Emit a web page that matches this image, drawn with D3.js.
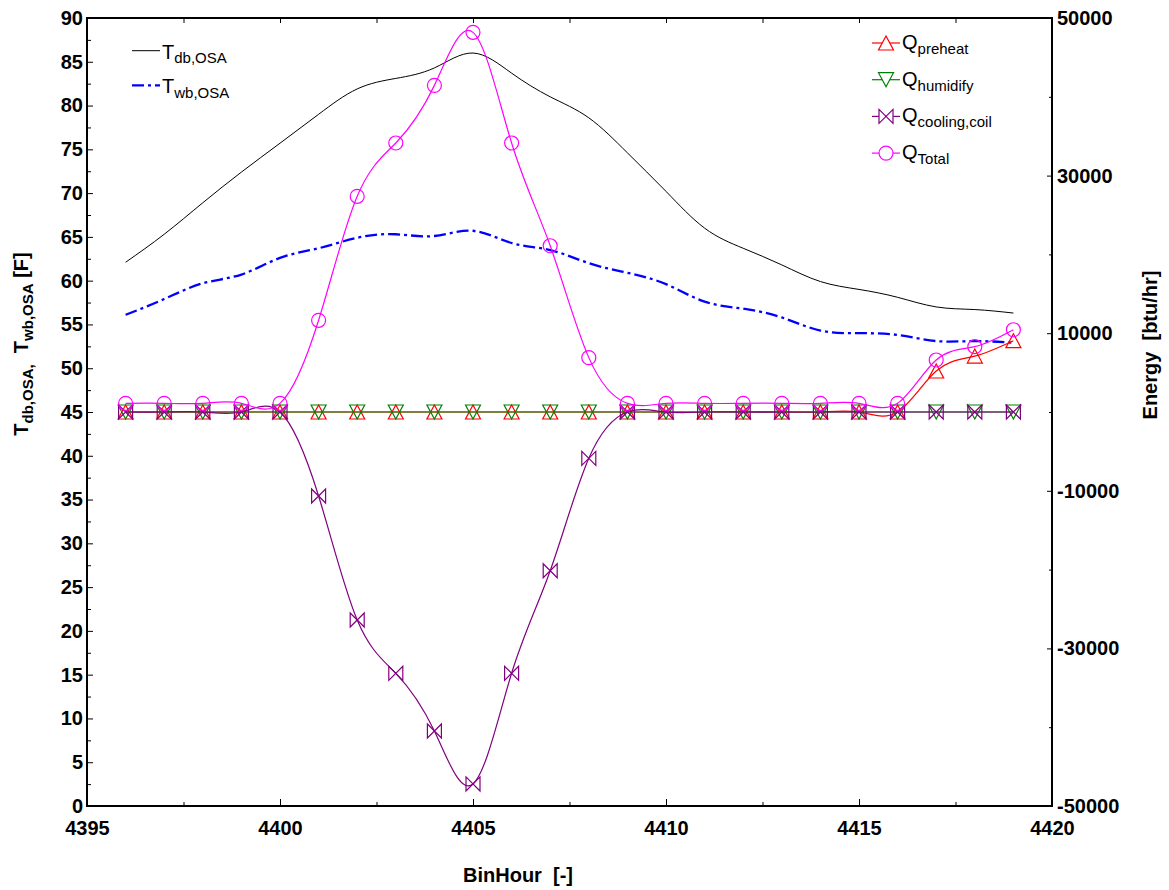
<!DOCTYPE html>
<html>
<head>
<meta charset="utf-8">
<script src="https://cdn.jsdelivr.net/npm/d3@7"></script>
<style>
  body { margin: 0; background: #fff; }
  text { font-family: "Liberation Sans", Arial, sans-serif; }
</style>
</head>
<body>
<script>
// values
const hours = [4396, 4397, 4398, 4399, 4400, 4401, 4402, 4403, 4404, 4405, 4406, 4407,
               4408, 4409, 4410, 4411, 4412, 4413, 4414, 4415, 4416, 4417, 4418, 4419];

const tDb = [62.1, 65.3, 68.9, 72.4, 75.7, 79.0, 81.9, 83.1, 84.3, 86.0, 83.7, 81.0,
             78.6, 74.6, 70.2, 66.0, 63.7, 61.8, 59.9, 59.0, 58.1, 57.0, 56.7, 56.3];

const tWb = [56.1, 57.9, 59.7, 60.7, 62.6, 63.7, 64.9, 65.3, 65.1, 65.7, 64.3, 63.5,
             62.0, 60.9, 59.6, 57.6, 56.8, 55.8, 54.3, 54.0, 53.8, 53.1, 53.1, 52.9];

const qPreheat = [0, 0, 0, 0, 0, 0, 0, 0, 0, 0, 0, 0,
                  0, 0, 0, 0, 0, 0, 0, 0, 0, 5200, 7100, 9050];

const qHumidify = [0, 0, 0, 0, 0, 0, 0, 0, 0, 0, 0, 0,
                   0, 0, 0, 0, 0, 0, 0, 0, 0, 0, 0, 0];

const qCooling = [0, 0, 0, 0, 0, -10660, -26400, -33160, -40480, -47200, -33160, -20140,
                  -5880, 0, 0, 0, 0, 0, 0, 0, 0, 0, 0, 0];

const qTotal = [1100, 1100, 1100, 1100, 1100, 11640, 27370, 34140, 41450, 48180, 34140, 21100,
                6900, 1100, 1100, 1100, 1100, 1100, 1100, 1100, 1100, 6600, 8290, 10440];

const xTicks = [4395, 4400, 4405, 4410, 4415, 4420];
const xMinor = [4397.5, 4402.5, 4407.5, 4412.5, 4417.5];
const tTicks = [0, 5, 10, 15, 20, 25, 30, 35, 40, 45, 50, 55, 60, 65, 70, 75, 80, 85, 90];
const tMinor = [2.5, 7.5, 12.5, 17.5, 22.5, 27.5, 32.5, 37.5, 42.5, 47.5, 52.5, 57.5, 62.5, 67.5, 72.5, 77.5, 82.5, 87.5];
const qTicks = [50000, 30000, 10000, -10000, -30000, -50000];
const qMinor = [40000, 20000, 0, -20000, -40000];

const width = 1169;
const height = 890;
const plot = { left: 87, right: 1052, top: 18, bottom: 806 };

const x = d3.scaleLinear().domain([4395, 4420]).range([plot.left, plot.right]);
const yT = d3.scaleLinear().domain([0, 90]).range([plot.bottom, plot.top]);
const yQ = d3.scaleLinear().domain([-50000, 50000]).range([plot.bottom, plot.top]);

const svg = d3.select('body').append('svg')
    .attr('width', width)
    .attr('height', height);

// marker shapes
const shapes = {
    triUp: 'M0,-7L7.5,7L-7.5,7Z',
    triDown: 'M-7.5,-7L7.5,-7L0,7Z',
    bowtie: 'M-7,-7L7,7L7,-7L-7,7Z',
    circle: 'M7,0A7,7 0 1,1 -7,0A7,7 0 1,1 7,0Z'
};

const tempSeries = [
    { label: 'db,OSA', values: tDb, color: '#000', width: 1, dash: null },
    { label: 'wb,OSA', values: tWb, color: '#0000ff', width: 2.3, dash: '12,4,3,4' }
];

const qSeries = [
    { label: 'preheat', values: qPreheat, color: '#ff0000', shape: 'triUp' },
    { label: 'humidify', values: qHumidify, color: '#008000', shape: 'triDown' },
    { label: 'cooling,coil', values: qCooling, color: '#800080', shape: 'bowtie' },
    { label: 'Total', values: qTotal, color: '#ff00ff', shape: 'circle' }
];

// axes
function styleAxis(g) {
    g.select('.domain').remove();
    g.selectAll('line').attr('stroke', '#000').attr('stroke-width', 1);
    g.selectAll('text')
        .style('font-size', '20px')
        .style('font-weight', 'bold')
        .attr('fill', '#000');
}

svg.append('g')
    .attr('transform', `translate(0, ${plot.bottom})`)
    .call(d3.axisBottom(x).tickValues(xTicks).tickSize(-7).tickPadding(15).tickFormat(d3.format('d')))
    .call(styleAxis);
svg.append('g')
    .attr('transform', `translate(0, ${plot.bottom})`)
    .call(d3.axisBottom(x).tickValues(xMinor).tickSize(-4).tickFormat(''))
    .call(styleAxis);
svg.append('g')
    .attr('transform', `translate(0, ${plot.top})`)
    .call(d3.axisTop(x).tickValues(xTicks.concat(xMinor)).tickSize(-5).tickFormat(''))
    .call(styleAxis);

svg.append('g')
    .attr('transform', `translate(${plot.left}, 0)`)
    .call(d3.axisLeft(yT).tickValues(tTicks).tickSize(-6).tickPadding(4).tickFormat(d3.format('d')))
    .call(styleAxis);
svg.append('g')
    .attr('transform', `translate(${plot.left}, 0)`)
    .call(d3.axisLeft(yT).tickValues(tMinor).tickSize(-4).tickFormat(''))
    .call(styleAxis);

svg.append('g')
    .attr('transform', `translate(${plot.right}, 0)`)
    .call(d3.axisRight(yQ).tickValues(qTicks).tickSize(-5).tickPadding(5).tickFormat(d => String(d)))
    .call(styleAxis);
svg.append('g')
    .attr('transform', `translate(${plot.right}, 0)`)
    .call(d3.axisRight(yQ).tickValues(qMinor).tickSize(-3).tickFormat(''))
    .call(styleAxis);

// frame
svg.append('rect')
    .attr('x', plot.left)
    .attr('y', plot.top)
    .attr('width', plot.right - plot.left)
    .attr('height', plot.bottom - plot.top)
    .attr('fill', 'none')
    .attr('stroke', '#000')
    .attr('stroke-width', 2);

// temperature lines
const lineT = d3.line()
    .x(d => x(d.h))
    .y(d => yT(d.v))
    .curve(d3.curveNatural);

tempSeries.forEach(s => {
    svg.append('path')
        .datum(hours.map((h, i) => ({ h: h, v: s.values[i] })))
        .attr('fill', 'none')
        .attr('stroke', s.color)
        .attr('stroke-width', s.width)
        .attr('stroke-dasharray', s.dash)
        .attr('d', lineT);
});

// energy lines + markers
const lineQ = d3.line()
    .x(d => x(d.h))
    .y(d => yQ(d.v))
    .curve(d3.curveNatural);

qSeries.forEach(s => {
    const pts = hours.map((h, i) => ({ h: h, v: s.values[i] }));
    svg.append('path')
        .datum(pts)
        .attr('fill', 'none')
        .attr('stroke', s.color)
        .attr('stroke-width', 1.2)
        .attr('d', lineQ);
    svg.append('g')
        .selectAll('path')
        .data(pts)
        .enter()
        .append('path')
        .attr('transform', d => `translate(${x(d.h)}, ${yQ(d.v)})`)
        .attr('d', shapes[s.shape])
        .attr('fill', 'none')
        .attr('stroke', s.color)
        .attr('stroke-width', 1.2);
});

// legend, temperatures
const legT = svg.append('g');
tempSeries.forEach((s, i) => {
    const ly = 50.7 + i * 34.7;
    legT.append('line')
        .attr('x1', 132).attr('x2', 160)
        .attr('y1', ly).attr('y2', ly)
        .attr('stroke', s.color)
        .attr('stroke-width', s.width)
        .attr('stroke-dasharray', s.dash);
    const t = legT.append('text')
        .attr('x', 162)
        .attr('y', ly + 8)
        .style('font-size', '20px');
    t.append('tspan').text('T');
    t.append('tspan').attr('dy', 4.5).style('font-size', '15px').text(s.label);
});

// legend, energies
const legQ = svg.append('g');
qSeries.forEach((s, i) => {
    const ly = 43 + i * 36.7;
    legQ.append('line')
        .attr('x1', 872).attr('x2', 900)
        .attr('y1', ly).attr('y2', ly)
        .attr('stroke', s.color)
        .attr('stroke-width', 1.2);
    legQ.append('path')
        .attr('transform', `translate(886, ${ly})`)
        .attr('d', shapes[s.shape])
        .attr('fill', '#fff')
        .attr('stroke', s.color)
        .attr('stroke-width', 1.2);
    const t = legQ.append('text')
        .attr('x', 902)
        .attr('y', ly + 6)
        .style('font-size', '20px');
    t.append('tspan').text('Q');
    t.append('tspan').attr('dy', 5).style('font-size', '15px').text(s.label);
});

// axis titles
svg.append('text')
    .attr('x', 518)
    .attr('y', 882)
    .attr('text-anchor', 'middle')
    .style('font-size', '20px')
    .style('font-weight', 'bold')
    .style('white-space', 'pre')
    .text('BinHour  [-]');

svg.append('text')
    .attr('transform', 'translate(1157, 345) rotate(-90)')
    .attr('text-anchor', 'middle')
    .style('font-size', '20px')
    .style('font-weight', 'bold')
    .style('white-space', 'pre')
    .text('Energy  [btu/hr]');

const yTitle = svg.append('text')
    .attr('transform', 'translate(28, 344) rotate(-90)')
    .attr('text-anchor', 'middle')
    .style('font-size', '20px')
    .style('font-weight', 'bold')
    .style('white-space', 'pre');
yTitle.append('tspan').text('T');
yTitle.append('tspan').attr('dy', 4.5).style('font-size', '15px').text('db,OSA,');
yTitle.append('tspan').attr('dy', -4.5).text('  T');
yTitle.append('tspan').attr('dy', 4.5).style('font-size', '15px').text('wb,OSA');
yTitle.append('tspan').attr('dy', -4.5).text(' [F]');
</script>
</body>
</html>
